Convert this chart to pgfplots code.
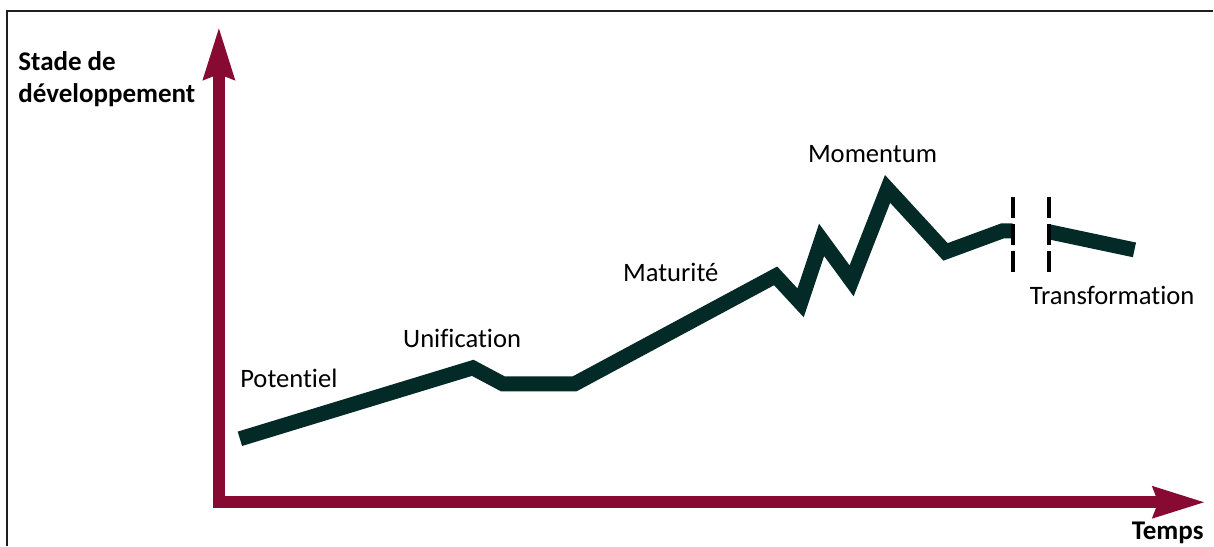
\documentclass[border=0pt]{standalone}
\usepackage{pgfplots}
\pgfplotsset{compat=1.18}
\usepackage{fontspec}
\setmainfont{Carlito}[Ligatures=NoCommon]
\usetikzlibrary{arrows.meta}
\definecolor{maroon}{RGB}{134,10,50}
\definecolor{dkgreen}{RGB}{4,42,40}
\definecolor{frame}{RGB}{30,30,30}
\begin{document}
\begin{tikzpicture}
\begin{axis}[width=607pt, height=273pt, scale only axis,
  xmin=0, xmax=1214, ymin=0, ymax=546, y dir=reverse,
  axis lines=none, clip=false]
% invisible extent
\addplot[draw=none] coordinates {(0,0) (1214,546)};
% frame
\addplot[frame, line width=0.6pt] coordinates {(7,546) (7,11) (1214,11)};
% axes arrows
\addplot[maroon, line width=6pt, -{Stealth[length=26pt,width=14.5pt,inset=2pt]}] coordinates {(219,508) (219,26)};
\addplot[maroon, line width=6pt, -{Stealth[length=26pt,width=14.5pt,inset=2pt]}] coordinates {(213,502.5) (1207,502.5)};
% development line
\addplot[dkgreen, line width=7.5pt, line join=miter, miter limit=12] coordinates {
(240,439) (473,368) (503,384) (575,384) (776,276) (801,303) (822,240) (852,281) (888,189) (946,252) (1003,231) (1013,231)};
\addplot[dkgreen, line width=7.5pt] coordinates {(1050,232) (1135,250)};
% break marks
\addplot[black, line width=2pt, dash pattern=on 10.5pt off 3pt] coordinates {(1013,197) (1013,272)};
\addplot[black, line width=2pt, dash pattern=on 10.5pt off 3pt] coordinates {(1050,197) (1050,272)};
% labels
\node[anchor=base west, inner sep=0pt, font=\fontsize{13.3}{16}\selectfont] at (axis cs:240,388) {Potentiel};
\node[anchor=base west, inner sep=0pt, font=\fontsize{13.3}{16}\selectfont] at (axis cs:403,348) {Unification};
\node[anchor=base west, inner sep=0pt, font=\fontsize{13.3}{16}\selectfont] at (axis cs:623,282) {Maturité};
\node[anchor=base west, inner sep=0pt, font=\fontsize{13.3}{16}\selectfont] at (axis cs:808,163) {Momentum};
\node[anchor=base west, inner sep=0pt, font=\fontsize{13.3}{16}\selectfont] at (axis cs:1030,305) {Transformation};
\node[anchor=base west, inner sep=0pt, font=\bfseries\fontsize{13.5}{16}\selectfont] at (axis cs:18,71) {Stade de};
\node[anchor=base west, inner sep=0pt, font=\bfseries\fontsize{13.5}{16}\selectfont] at (axis cs:18,103) {développement};
\node[anchor=base west, inner sep=0pt, font=\bfseries\fontsize{13.5}{16}\selectfont] at (axis cs:1132,540) {Temps};
\end{axis}
\end{tikzpicture}
\end{document}
